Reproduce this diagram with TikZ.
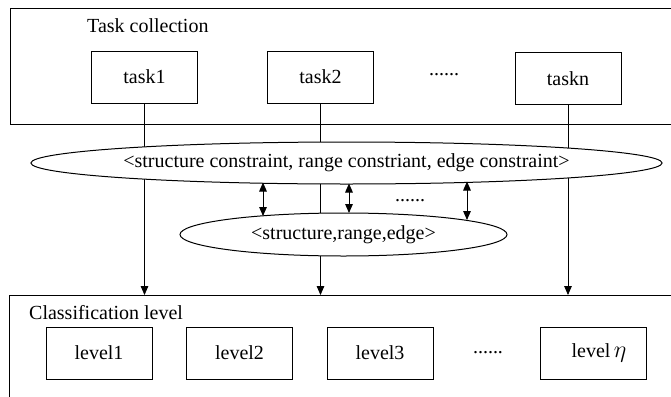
\documentclass[tikz,border=0pt]{standalone}
\usepackage{fontspec}
\setmainfont{Liberation Serif}
\usepackage{amsmath}
\usetikzlibrary{shapes,arrows.meta,backgrounds}

\begin{document}
\begin{tikzpicture}[
			x = 0.5pt,
			y = -0.5pt,
			> = {Triangle[length=4.5pt,width=3.8pt]},
			line width = 0.5pt]
			\tikzstyle{box}=[
			draw = black,
			fill = white,
			minimum width = 53pt,
			minimum height = 26pt]
			\tikzstyle{frame}=[
			draw = black,
			anchor = north west,
			minimum width = 335pt,
			inner sep = 0pt]
			\tikzstyle{oval}=[
			draw = black,
			fill = white,
			ellipse,
			inner sep = 0pt]

			\useasboundingbox (0,0) rectangle (671,397);

			% the two frames
			\node[frame, minimum height = 58pt] (tc) at (10,8) {};
			\node[frame, minimum height = 60pt] (cl) at (9,295) {};
			\node[anchor = west] (tctext) at (80,26) {Task collection};
			\node[anchor = west] (cltext) at (22,313) {Classification level};

			% tasks
			\node[box] (task1) at (144.5,77) {task1};
			\node[box] (task2) at (320.5,77) {task2};
			\node (tdots) at (444,75) {......};
			\node[box] (taskn) at (568,78.5) {taskn};

			% constraints
			\node[oval, minimum width = 308.5pt, minimum height = 21pt] (big) at (346.5,163)
				{<structure constraint, range constriant, edge constraint>};
			\node[oval, minimum width = 163.5pt, minimum height = 21.5pt] (small) at (343.5,234.5)
				{<structure,range,edge>};
			\node (mdots) at (410,201) {......};

			% levels
			\node[box] (level1) at (99,353) {level1};
			\node[box] (level2) at (239.5,353) {level2};
			\node[box] (level3) at (380,353) {level3};
			\node (ldots) at (488,353) {......};
			\node[box] (leveln) at (593,353) {\hspace{6pt}level\,{\large$\eta$}};

			\coordinate (u1) at (263,182.5);
			\coordinate (d1) at (263,216);
			\coordinate (u2) at (349,183.5);
			\coordinate (d2) at (349,213);
			\coordinate (u3) at (467,181.5);
			\coordinate (d3) at (467,220);

			\draw[<->] (u1) -- (d1);
			\draw[<->] (u2) -- (d2);
			\draw[<->] (u3) -- (d3);

			\begin{scope}[on background layer]
			\draw[->] (task1.south) -- (task1.south |- cl.north);
			\draw[->] (task2.south) -- (task2.south |- cl.north);
			\draw[->] (taskn.south) -- (taskn.south |- cl.north);
			\end{scope}
		\end{tikzpicture}
\end{document}
